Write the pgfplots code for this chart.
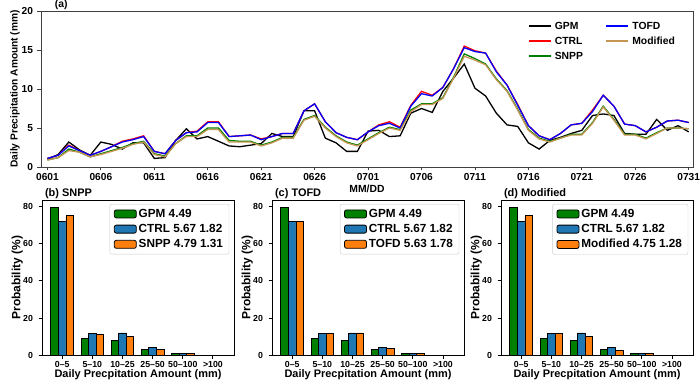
\documentclass[border=0pt]{standalone}
\usepackage{fontspec}
\setmainfont{Liberation Sans}
\usepackage{pgfplots}
\usepackage{pgfplotstable}
\pgfplotsset{compat=1.18}

\definecolor{mgreen}{RGB}{0,128,0}
\definecolor{mblue}{RGB}{0,0,255}
\definecolor{mred}{RGB}{255,0,0}
\definecolor{mtan}{RGB}{196,150,82}
\definecolor{tabblue}{HTML}{1F77B4}
\definecolor{taborange}{HTML}{FF7F0E}

\pgfplotstableread{
d gpm ctrl snpp tofd mod
0 1.0 1.1 0.9 1.1 0.9
1 1.6 1.5 1.2 1.5 1.2
2 3.2 2.8 2.3 2.7 2.1
3 2.2 2.1 1.9 2.1 1.9
4 1.5 1.5 1.3 1.5 1.3
5 3.2 2.0 1.7 2.0 1.6
6 2.9 2.6 2.1 2.6 2.0
7 2.3 3.3 2.5 3.2 2.4
8 3.1 3.6 3.0 3.5 2.9
9 3.1 4.0 3.3 3.9 3.2
10 1.1 2.0 1.7 2.0 1.6
11 1.2 1.7 1.4 1.7 1.3
12 3.4 3.4 3.0 3.4 3.0
13 4.9 4.4 4.0 4.4 3.9
14 3.6 4.6 4.0 4.5 3.9
15 3.9 5.8 5.0 5.7 4.8
16 3.3 5.8 5.0 5.7 4.8
17 2.7 3.9 3.4 3.9 3.2
18 2.6 4.0 3.3 4.0 3.2
19 2.8 4.1 3.3 4.1 3.2
20 3.0 3.6 2.8 3.5 2.7
21 4.3 3.9 3.2 3.9 3.1
22 3.9 4.3 3.8 4.3 3.7
23 3.9 4.3 3.8 4.3 3.7
24 7.2 7.2 6.1 7.2 6.0
25 7.2 8.1 6.6 8.1 6.5
26 3.7 5.8 5.1 5.8 5.0
27 3.1 4.4 4.0 4.4 3.9
28 2.0 3.8 3.2 3.8 3.1
29 2.0 3.5 2.8 3.5 2.7
30 4.6 4.5 3.6 4.5 3.5
31 4.7 5.4 4.4 5.3 4.3
32 3.9 5.8 5.1 5.6 5.0
33 4.0 5.1 4.8 5.0 4.7
34 6.9 7.9 7.3 7.8 7.1
35 7.5 9.7 8.1 9.4 8.0
36 7.0 9.2 8.1 9.1 8.0
37 9.7 10.2 8.9 10.2 8.8
38 11.4 12.6 11.5 12.6 11.4
39 13.2 15.5 14.5 15.3 14.2
40 10.1 14.9 13.9 14.8 13.7
41 9.1 14.6 13.2 14.6 13.1
42 6.9 12.3 11.3 12.2 11.2
43 5.4 10.5 9.8 10.5 9.7
44 5.2 8.0 7.4 7.9 7.3
45 3.1 5.3 4.8 5.3 4.7
46 2.3 4.0 3.7 4.0 3.6
47 3.4 3.5 3.3 3.5 3.2
48 3.8 4.3 3.7 4.3 3.7
49 4.3 5.4 4.2 5.4 4.1
50 4.7 5.6 4.2 5.6 4.1
51 6.6 7.3 5.7 7.1 5.6
52 6.8 9.2 7.8 9.2 7.7
53 6.6 7.8 6.1 7.8 6.0
54 4.3 5.5 4.2 5.5 4.1
55 4.2 5.3 4.2 5.3 4.1
56 4.2 4.5 3.7 4.5 3.6
57 6.1 5.1 4.4 5.1 4.3
58 4.7 5.9 5.0 5.9 5.0
59 5.3 6.0 5.0 6.0 5.0
60 4.5 5.7 4.9 5.7 4.9
}\dailydata

\pgfplotstableread{
x gpm ctrl snpp tofd mod
0 79.3 71.6 74.8 71.6 74.8
1 9.3 11.6 11.2 11.8 11.7
2 8.0 12.1 10.4 12.1 10.3
3 3.0 4.3 3.2 3.9 2.9
4 1.2 1.2 0.9 1.1 0.9
5 0.2 0.2 0.1 0.2 0.1
}\bardata

\pgfplotsset{
  every axis title shift=0pt,
  topframe/.style={
    at={(41bp,215bp)}, anchor=south west,
    scale only axis, width=652bp, height=156bp,
    xmin=-0.6, xmax=60.4, ymin=0, ymax=20,
  },
  toplegend/.style={
    legend cell align=left,
    legend image code/.code={\draw[##1, line width=1.8bp] (0bp,0bp) -- (22bp,0bp);},
    legend style={draw=none, fill=none, anchor=north west,
      font=\bfseries\fontsize{10.4}{12}\selectfont, row sep=0pt,
      nodes={inner ysep=2.5bp, inner xsep=3bp, text height=8bp, text depth=2bp}},
  },
  barpanel/.style={
    scale only axis, width=192bp, height=155.5bp,
    xmin=-0.67, xmax=5.7, ymin=0, ymax=83.3,
    xtick={0,1,2,3,4,5},
    xticklabels={0–5,5–10,10–25,25–50,50–100,>100},
    ytick={0,20,40,60,80},
    tick align=outside, tick pos=left, major tick length=3.5bp,
    axis line style={black, line width=0.8bp},
    every tick/.style={black, line width=0.8bp},
    /pgf/number format/assume math mode=true,
    tick label style={font=\bfseries\fontsize{8.8}{10}\selectfont},
    xticklabel style={yshift=1.5bp},
    yticklabel style={xshift=-2bp},
    xlabel={Daily Precpitation Amount (mm)},
    ylabel={Probability (\%)},
    x label style={at={(axis description cs:0.5,0)}, anchor=north, yshift=-13.5bp, inner sep=0pt, font=\bfseries\fontsize{11}{12}\selectfont},
    y label style={at={(axis description cs:0,0.5)}, anchor=south, yshift=19bp, inner sep=0pt, font=\bfseries\fontsize{12}{13}\selectfont},
    title style={at={(0.015,1)}, anchor=base west, yshift=3bp, inner sep=0pt, font=\bfseries\fontsize{11}{12}\selectfont},
    legend style={at={(0.975,0.975)}, anchor=north east, draw=black!20, rounded corners=2bp, fill=white,
      font=\bfseries\fontsize{11.8}{13}\selectfont, row sep=1.5bp, inner xsep=4bp, inner ysep=3bp},
    legend cell align=left,
  },
  barplot/.style={ybar, bar width=0.25, bar shift=0pt, draw=black, line width=0.8bp,
    legend image code/.code={\draw[##1, line width=0.8bp] (0bp,-4bp) rectangle (22bp,4bp);}},
}

\begin{document}
\begin{tikzpicture}
\useasboundingbox (0,0) rectangle (700bp,382bp);

% ---------- (a) ----------
\begin{axis}[
  topframe,
  xtick={0,5,10,15,20,25,30,35,40,45,50,55,60},
  xticklabels={0601,0606,0611,0616,0621,0626,0701,0706,0711,0716,0721,0726,0731},
  ytick={0,5,10,15,20},
  tick align=outside, tick pos=left, major tick length=3.5bp,
  axis line style={black!75, line width=0.8bp},
  every tick/.style={black!75, line width=0.8bp},
  /pgf/number format/assume math mode=true,
  tick label style={font=\bfseries\fontsize{10.2}{12}\selectfont},
  xticklabel style={yshift=1bp},
  yticklabel style={xshift=-1bp},
  xlabel={MM/DD}, ylabel={Daily Precipitation Amount (mm)},
  x label style={at={(axis description cs:0.5,0)}, anchor=north, yshift=-18bp, inner sep=0pt, font=\bfseries\fontsize{10.4}{12}\selectfont},
  y label style={at={(axis description cs:0,0.5)}, anchor=south, yshift=21bp, inner sep=0pt, font=\bfseries\fontsize{10.2}{12}\selectfont},
  title={(a)},
  title style={at={(0.021,1)}, anchor=base west, yshift=3bp, inner sep=0pt, font=\bfseries\fontsize{10.4}{12}\selectfont},
  toplegend,
  legend style={at={(0.742,0.965)}},
]
\addplot[black, line width=1.3bp] table[x=d, y=gpm]{\dailydata};
\addlegendentry{GPM}
\addplot[mred, line width=1.3bp] table[x=d, y=ctrl]{\dailydata};
\addlegendentry{CTRL}
\addplot[mgreen, line width=1.3bp] table[x=d, y=snpp]{\dailydata};
\addlegendentry{SNPP}
\addplot[mblue, line width=1.3bp, forget plot] table[x=d, y=tofd]{\dailydata};
\addplot[mtan, line width=1.3bp, forget plot] table[x=d, y=mod]{\dailydata};
\end{axis}

% second legend column of (a)
\begin{axis}[
  topframe, hide axis,
  toplegend,
  legend style={at={(0.861,0.965)}},
]
\addlegendimage{mblue}
\addlegendentry{TOFD}
\addlegendimage{mtan}
\addlegendentry{Modified}
\end{axis}

% ---------- (b) ----------
\begin{axis}[barpanel, at={(42bp,26.5bp)}, anchor=south west, title={(b) SNPP}]
\addplot[barplot, fill=mgreen] table[x expr=\thisrow{x}-0.25, y=gpm]{\bardata};
\addlegendentry{GPM 4.49}
\addplot[barplot, fill=tabblue] table[x=x, y=ctrl]{\bardata};
\addlegendentry{CTRL 5.67 1.82}
\addplot[barplot, fill=taborange] table[x expr=\thisrow{x}+0.25, y=snpp]{\bardata};
\addlegendentry{SNPP 4.79 1.31}
\end{axis}

% ---------- (c) ----------
\begin{axis}[barpanel, at={(272bp,26.5bp)}, anchor=south west, title={(c) TOFD}]
\addplot[barplot, fill=mgreen] table[x expr=\thisrow{x}-0.25, y=gpm]{\bardata};
\addlegendentry{GPM 4.49}
\addplot[barplot, fill=tabblue] table[x=x, y=ctrl]{\bardata};
\addlegendentry{CTRL 5.67 1.82}
\addplot[barplot, fill=taborange] table[x expr=\thisrow{x}+0.25, y=tofd]{\bardata};
\addlegendentry{TOFD 5.63 1.78}
\end{axis}

% ---------- (d) ----------
\begin{axis}[barpanel, at={(501bp,26.5bp)}, anchor=south west, title={(d) Modified}]
\addplot[barplot, fill=mgreen] table[x expr=\thisrow{x}-0.25, y=gpm]{\bardata};
\addlegendentry{GPM 4.49}
\addplot[barplot, fill=tabblue] table[x=x, y=ctrl]{\bardata};
\addlegendentry{CTRL 5.67 1.82}
\addplot[barplot, fill=taborange] table[x expr=\thisrow{x}+0.25, y=mod]{\bardata};
\addlegendentry{Modified 4.75 1.28}
\end{axis}
\end{tikzpicture}
\end{document}
